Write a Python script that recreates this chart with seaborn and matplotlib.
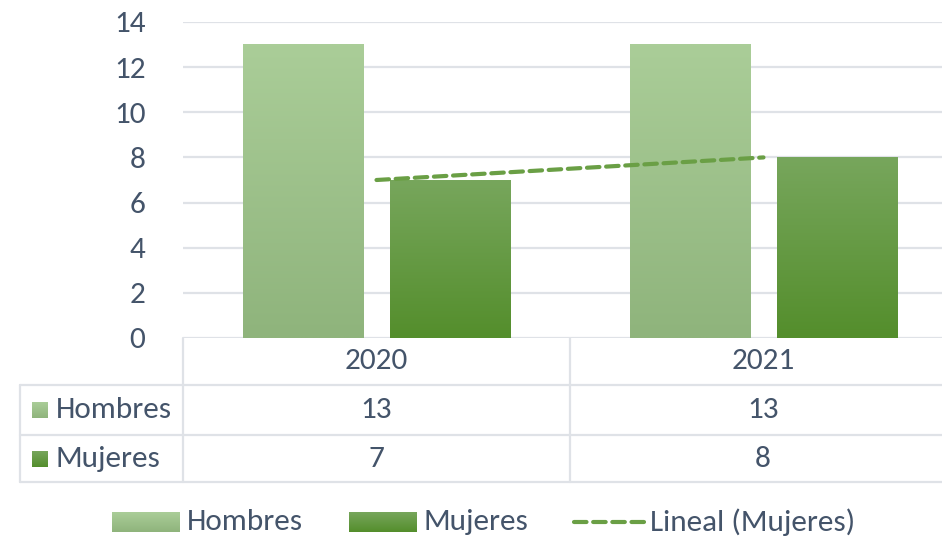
import numpy as np
import pandas as pd
import matplotlib.pyplot as plt
import seaborn as sns
from matplotlib.patches import Rectangle

years = ['2020', '2021']
hombres = [13, 13]
mujeres = [7, 8]
series = ['Hombres', 'Mujeres']

sns.set_theme(style='white')
plt.rcParams['font.family'] = ['Carlito', 'Lato', 'DejaVu Sans']

TXT = '#44546A'
GRID = '#DFE2E7'
FS = 22.5
# gradient (top, bottom) per series
grad = {'Hombres': ((170, 205, 152), (143, 180, 124)),
        'Mujeres': ((119, 166, 92), (84, 142, 44))}
TREND = '#6A9F45'

df = pd.DataFrame({'year': years * 2,
                   'sexo': ['Hombres'] * 2 + ['Mujeres'] * 2,
                   'value': hombres + mujeres})

W, H = 942, 538
fig = plt.figure(figsize=(W / 100, H / 100), dpi=100)
ax = fig.add_axes([183 / W, 1 - 338 / H, (W - 183) / W, 316 / H])

sns.barplot(data=df, x='year', y='value', hue='sexo', hue_order=series,
            width=0.763, gap=0.187, ax=ax, legend=False, errorbar=None)

ax.set_xticks([])
ax.set_xlabel('')
ax.set_ylabel('')
for s in ax.spines.values():
    s.set_visible(False)
ax.grid(axis='y', color=GRID, lw=1.6)
ax.set_axisbelow(True)
ax.tick_params(axis='y', length=0, pad=27, labelsize=FS, labelcolor=TXT)


def gradient_img(name):
    top, bot = grad[name]
    t = np.linspace(0, 1, 64)[:, None]
    c = np.array(top)[None, :] * (1 - t) + np.array(bot)[None, :] * t
    return (c[:, None, :] / 255.0)


# bars: replace flat fill by vertical gradient
bars = [p for p in ax.patches if isinstance(p, Rectangle)]
for i, p in enumerate(bars):
    name = series[i // len(years)]
    x0, y0 = p.get_x(), p.get_y()
    w, h = p.get_width(), p.get_height()
    p.set_facecolor('none')
    p.set_edgecolor('none')
    ax.imshow(gradient_img(name), extent=(x0, x0 + w, y0, y0 + h),
              aspect='auto', zorder=2, interpolation='bilinear')

# linear trend of Mujeres
xi = np.arange(len(years))
k, b = np.polyfit(xi, mujeres, 1)
ax.plot(xi, k * xi + b, ls=(0, (3, 1.6)), color=TREND, lw=3,
        zorder=3, dash_capstyle='round')

ax.set_xlim(-0.5, 1.5 - 15 / 387)
ax.set_ylim(0, 14)
ax.set_yticks(range(0, 15, 2))

# overlay in pixel coords for data table and legend
ov = fig.add_axes([0, 0, 1, 1], zorder=-1)
ov.axis('off')

lw = 1.6
ov.plot([183, 183], [338, 482], color=GRID, lw=lw)
ov.plot([570, 570], [338, 482], color=GRID, lw=lw)
ov.plot([20, 20], [385, 482], color=GRID, lw=lw)
for y in [385, 435, 482]:
    ov.plot([20, W], [y, y], color=GRID, lw=lw)

col_x = [376, 763]
for xc, yr in zip(col_x, years):
    ov.text(xc, 361, yr, ha='center', va='center', fontsize=FS, color=TXT)

rows_y = [410, 459]
for name, vals, yc in zip(series, [hombres, mujeres], rows_y):
    ov.imshow(gradient_img(name), extent=(32, 48, yc + 8, yc - 8),
              aspect='auto', interpolation='bilinear')
    ov.text(56, yc, name, ha='left', va='center', fontsize=FS, color=TXT)
    for xc, v in zip(col_x, vals):
        ov.text(xc, yc, str(v), ha='center', va='center', fontsize=FS, color=TXT)

# bottom legend
ly = 522
for name, x0 in zip(series, [112, 349]):
    ov.imshow(gradient_img(name), extent=(x0, x0 + 68, ly + 10, ly - 10),
              aspect='auto', interpolation='bilinear')
    ov.text(x0 + 75, ly, name, ha='left', va='center', fontsize=FS, color=TXT)
ov.plot([574, 644], [ly, ly], ls=(0, (3, 1.6)), color=TREND, lw=3,
        dash_capstyle='round')
ov.text(650, ly, 'Lineal (Mujeres)', ha='left', va='center', fontsize=FS, color=TXT)
ov.set_xlim(0, W)
ov.set_ylim(H, 0)

fig.savefig('out.png', dpi=100)
